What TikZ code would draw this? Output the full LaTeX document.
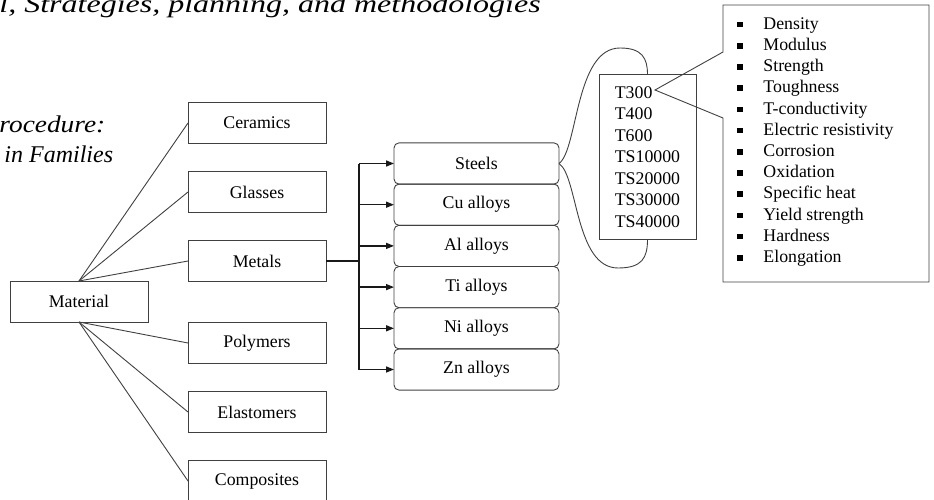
\documentclass[tikz,border=0pt]{standalone}
\usepackage{fontspec}
\setmainfont{Liberation Serif}
\usetikzlibrary{positioning,arrows.meta}

\newcommand{\blt}{\makebox[26pt][l]{\raisebox{2pt}{\rule{5.5pt}{5.5pt}}}}

\begin{document}
\begin{tikzpicture}[x=1pt, y=-1pt, line width=0.9pt, draw=black!75,
    txt/.style={text=black, font=\fontsize{17.8}{21.2}\selectfont},
    main/.style={draw, rectangle, outer sep=0pt, minimum width=138pt, minimum height=41pt, txt},
    alloy/.style={draw, rectangle, rounded corners=5pt, outer sep=0pt, minimum width=165pt, minimum height=41.2pt, txt},
    head/.style={anchor=base west, text=black, inner sep=0pt, font=\fontsize{24}{28}\selectfont\itshape},
    tree/.style={line width=1.5pt, draw=black!90}]
    \useasboundingbox (0,0) rectangle (934,500);
    \clip (0,0) rectangle (934,500);

    % headings cut by the page
    \node[head, font=\fontsize{25}{28}\selectfont\itshape] (title) at (-1,12.5)
        {\scalebox{1.28}[1]{l, Strategies, planning, and methodologies}};
    \node[head] (proc) at (-1,133) {\scalebox{1.14}[1]{rocedure:}};
    \node[head] (fam) at (4,162) {in Families};

    % families
    \node[main] (mat) at (79,301.5) {Material};
    \node[main] (cer) at (257,123) {Ceramics};
    \node[main] (gla) [below=28pt of cer] {Glasses};
    \node[main] (met) [below=28pt of gla] {Metals};
    \node[main] (pol) [below=41pt of met] {Polymers};
    \node[main] (ela) [below=28pt of pol] {Elastomers};
    \node[main] (com) [below=28pt of ela] {Composites};

    \draw (mat.north) -- (cer.west);
    \draw (mat.north) -- (gla.west);
    \draw (mat.north) -- (met.west);
    \draw (mat.south) -- (pol.west);
    \draw (mat.south) -- (ela.west);
    \draw (mat.south) -- (com.west);

    % metals
    \node[alloy] (ste) at (476.5,163.5) {Steels};
    \node[alloy] (cu) [below=0pt of ste] {Cu alloys};
    \node[alloy] (al) [below=0pt of cu] {Al alloys};
    \node[alloy] (ti) [below=0pt of al] {Ti alloys};
    \node[alloy] (ni) [below=0pt of ti] {Ni alloys};
    \node[alloy] (zn) [below=0pt of ni] {Zn alloys};

    \coordinate (j) at (359,261);
    \draw[tree] (met.east) -- (j);
    \draw[tree] (j |- ste.west) -- (j |- zn.west);
    \draw[tree, -{Triangle[length=8pt, width=6pt]}] (j |- ste.west) -- (ste.west);
    \draw[tree, -{Triangle[length=8pt, width=6pt]}] (j |- cu.west) -- (cu.west);
    \draw[tree, -{Triangle[length=8pt, width=6pt]}] (j |- al.west) -- (al.west);
    \draw[tree, -{Triangle[length=8pt, width=6pt]}] (j |- ti.west) -- (ti.west);
    \draw[tree, -{Triangle[length=8pt, width=6pt]}] (j |- ni.west) -- (ni.west);
    \draw[tree, -{Triangle[length=8pt, width=6pt]}] (j |- zn.west) -- (zn.west);

    % grades
    \node[draw, outer sep=0pt, minimum width=97pt, minimum height=165pt, align=left,
        text=black, font=\fontsize{17.8}{21.5}\selectfont] (tbox) at (647.5,157)
        {T300\\T400\\T600\\TS10000\\TS20000\\TS30000\\TS40000};
    \draw (ste.east) .. controls (578,150) and (575,48) .. (620,48)
        .. controls (642,48) and (647.5,58) .. (tbox.north);
    \draw (ste.east) .. controls (578,176) and (575,268) .. (618,268)
        .. controls (642,268) and (647.5,258) .. (tbox.south);

    % properties
    \coordinate (tip) at (655,90);
    \node[outer sep=0pt, minimum width=206pt, minimum height=277pt] (pbox) at (826,143.5) {};
    \coordinate (c1) at (723,52);
    \coordinate (c2) at (723,118);
    \draw (c1) -- (pbox.north west) -- (pbox.north east) -- (pbox.south east)
        -- (pbox.south west) -- (c2) -- (tip) -- cycle;
    \node[txt, anchor=west, align=left, inner sep=0pt] (plist) at (737,142)
        {\blt Density\\ \blt Modulus\\ \blt Strength\\ \blt Toughness\\
         \blt T-conductivity\\ \blt Electric resistivity\\ \blt Corrosion\\
         \blt Oxidation\\ \blt Specific heat\\ \blt Yield strength\\
         \blt Hardness\\ \blt Elongation};
\end{tikzpicture}
\end{document}
